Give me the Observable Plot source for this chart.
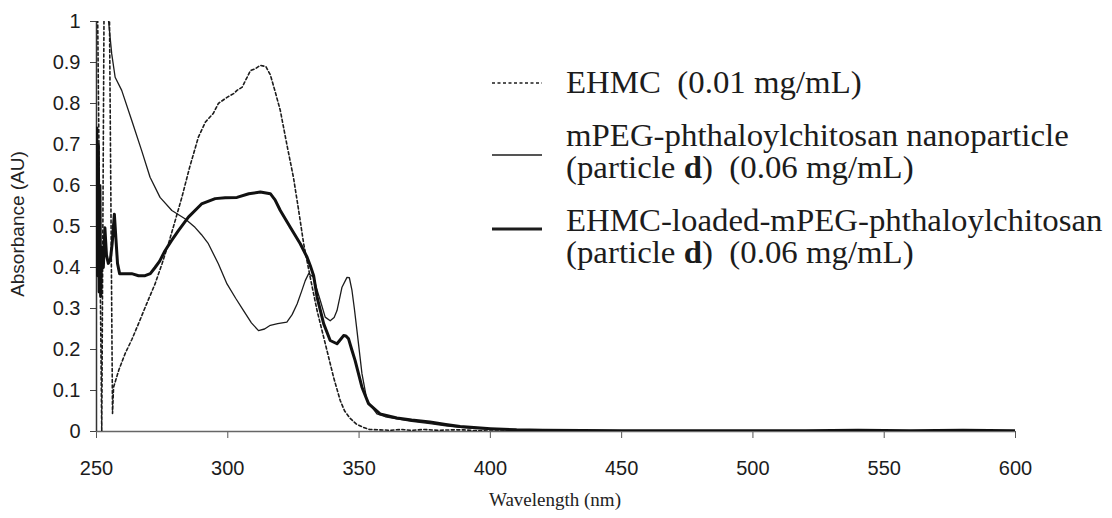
<!DOCTYPE html>
<html><head><meta charset="utf-8">
<script src="https://cdn.jsdelivr.net/npm/d3@7"></script>
<script src="https://cdn.jsdelivr.net/npm/@observablehq/plot@0.6"></script>
<style>
body{margin:0;background:#fff;}
#wrap{position:relative;width:1112px;height:518px;overflow:hidden;background:#fff;}
#wrap svg{position:absolute;left:0;top:0;}
.ylab{position:absolute;left:18px;top:224px;transform:translate(-50%,-50%) rotate(-90deg);white-space:nowrap;font-family:"Liberation Sans",Arial,sans-serif;font-size:19px;color:#222;}
.xlab{position:absolute;left:555px;top:500px;transform:translate(-50%,-50%);white-space:nowrap;font-family:"Liberation Serif","Times New Roman",serif;font-size:19px;color:#222;}
</style></head><body><div id="wrap"></div>
<script>
// Wavelength (nm) / Absorbance (AU) pairs
const ehmc = [[250,1.3],[252.0,0.0],[253.1,1.3],[254.6,1.3],[256.1,0.044],[256.5,0.108],[258.5,0.15],[260.9,0.19],[263.5,0.225],[266,0.263],[269,0.31],[272.3,0.36],[275,0.41],[277.4,0.458],[280,0.515],[282.5,0.571],[285.5,0.645],[288.8,0.718],[291.5,0.755],[294.5,0.776],[296.4,0.8],[299.7,0.815],[302.2,0.824],[303.5,0.832],[305.5,0.84],[308.6,0.88],[310.5,0.885],[312.4,0.893],[314.5,0.89],[316.2,0.87],[318,0.83],[320,0.783],[322.5,0.70],[325,0.62],[327,0.539],[328.9,0.458],[331.4,0.376],[334,0.295],[337.1,0.215],[340.3,0.132],[342.8,0.076],[344.5,0.05],[346.6,0.032],[349,0.018],[351.6,0.01],[354,0.005],[358,0.004],[362,0.003],[366,0.005],[370,0.003],[375,0.005],[380,0.003],[385,0.004],[390,0.004],[395,0.002],[400,0.001],[420,0.001],[450,0],[500,0],[550,0],[600,0]];
const nanoparticle = [[253.8,1.1],[254.6,1.0],[255.8,0.921],[257.1,0.864],[259.6,0.832],[263.4,0.759],[267.2,0.685],[270.4,0.62],[274.2,0.571],[278.7,0.539],[283.7,0.519],[287.5,0.498],[290,0.48],[292.6,0.458],[296.4,0.409],[299.7,0.36],[303,0.325],[306,0.295],[309,0.265],[311.7,0.246],[314,0.25],[316.2,0.259],[319,0.263],[322.5,0.267],[324.5,0.285],[326.4,0.311],[328,0.34],[329.5,0.368],[330.8,0.385],[332.7,0.376],[334,0.345],[335.2,0.32],[337.1,0.279],[339,0.27],[340.5,0.278],[341.6,0.295],[343.5,0.352],[345.4,0.376],[346.3,0.375],[347.3,0.344],[348.2,0.3],[349.2,0.246],[351.1,0.141],[353,0.076],[356.8,0.043],[360,0.036],[364.4,0.031],[370,0.025],[377,0.019],[383,0.014],[388.5,0.01],[395,0.007],[400,0.006],[410,0.004],[420,0.003],[450,0.002],[500,0.001],[550,0.001],[600,0.001]];
const loaded = [[250.1,0.74],[250.4,0.38],[250.7,0.70],[251.0,0.34],[251.3,0.60],[251.6,0.33],[252.0,0.45],[252.6,0.40],[253.2,0.497],[253.8,0.43],[254.5,0.41],[255.3,0.42],[256.0,0.46],[256.8,0.53],[257.4,0.47],[258.0,0.41],[258.8,0.385],[260,0.385],[263.4,0.385],[266,0.38],[268.5,0.38],[270.5,0.385],[272.3,0.40],[274,0.415],[276.1,0.441],[278.5,0.465],[281.2,0.49],[285,0.523],[290,0.555],[295.2,0.568],[299,0.57],[303.5,0.571],[308,0.58],[312.4,0.584],[316.2,0.58],[318,0.565],[320,0.539],[323.8,0.498],[327.6,0.458],[330.2,0.425],[331.4,0.405],[332.7,0.38],[334,0.328],[336.5,0.263],[339,0.222],[341.6,0.214],[343,0.225],[344.1,0.234],[345,0.233],[346,0.226],[347.2,0.2],[348.5,0.173],[351.1,0.108],[353.6,0.068],[358,0.043],[364.4,0.033],[370,0.028],[377,0.023],[383,0.017],[388.5,0.012],[395,0.009],[400,0.007],[410,0.004],[420,0.003],[450,0.002],[500,0.002],[520,0.002],[540,0.003],[560,0.002],[580,0.003],[600,0.002]];

const xTicks = [250,300,350,400,450,500,550,600];
const yTicks = [0,0.1,0.2,0.3,0.4,0.5,0.6,0.7,0.8,0.9,1];
const legendLines = [
  ["EHMC  (0.01 mg/mL)"],
  ["mPEG-phthaloylchitosan nanoparticle"],
  ["(particle ", "d", ")  (0.06 mg/mL)"],
  ["EHMC-loaded-mPEG-phthaloylchitosan"],
  ["(particle ", "d", ")  (0.06 mg/mL)"]
];
const xTitle = "Wavelength (nm)";
const yTitle = "Absorbance (AU)";

const toRows = (arr) => arr.map(([wl, abs]) => ({wl, abs}));
const ink = "#1c1c1c";

const chart = Plot.plot({
  width: 1112, height: 518,
  marginLeft: 96, marginRight: 97, marginTop: 21, marginBottom: 87,
  x: {domain: [250, 600]},
  y: {domain: [0, 1]},
  style: {fontFamily: "'Liberation Sans', Arial, sans-serif", fontSize: "20px", background: "white", color: ink},
  marks: [
    Plot.axisY(yTicks, {tickSize: 6, tickPadding: 10, tickFormat: d => d3.format("~g")(d), label: null, stroke: "#444"}),
    Plot.axisX(xTicks, {tickSize: 7, tickPadding: 22, label: null, stroke: "#555"}),
    Plot.ruleY([0], {stroke: "#666", strokeWidth: 1.5}),
    Plot.ruleX([250], {stroke: "#333", strokeWidth: 1.5}),
    Plot.line(toRows(ehmc), {x: "wl", y: "abs", stroke: ink, strokeWidth: 1.6, strokeDasharray: "3,2.5", clip: true}),
    Plot.line(toRows(nanoparticle), {x: "wl", y: "abs", stroke: ink, strokeWidth: 1.3, clip: true}),
    Plot.line(toRows(loaded), {x: "wl", y: "abs", stroke: "#111", strokeWidth: 3, clip: true})
  ]
});

const wrap = document.getElementById("wrap");
wrap.appendChild(chart);

// legend overlay
const svg = d3.select(wrap).append("svg").attr("width", 1112).attr("height", 518).style("pointer-events", "none");
const sw = [
  {y: 83, w: 1.4, dash: "3,2.5"},
  {y: 155, w: 1.3, dash: null},
  {y: 229, w: 3.2, dash: null}
];
sw.forEach(s => {
  svg.append("line").attr("x1", 492).attr("x2", 542).attr("y1", s.y).attr("y2", s.y)
    .attr("stroke", ink).attr("stroke-width", s.w).attr("stroke-dasharray", s.dash);
});
const baselines = [93, 146, 178, 231, 263];
const g = svg.append("g").attr("transform", "translate(566,0) scale(1.06,1)")
  .style("font-family", "'Liberation Serif','Times New Roman',serif").style("font-size", "31px").attr("fill", ink);
legendLines.forEach((parts, i) => {
  const t = g.append("text").attr("x", 0).attr("y", baselines[i]).style("white-space", "pre");
  parts.forEach((p, j) => {
    const ts = t.append("tspan").text(p);
    if (parts.length === 3 && j === 1) ts.attr("font-weight", "bold");
  });
});

const yl = document.createElement("div"); yl.className = "ylab"; yl.textContent = yTitle; wrap.appendChild(yl);
const xl = document.createElement("div"); xl.className = "xlab"; xl.textContent = xTitle; wrap.appendChild(xl);
</script></body></html>
